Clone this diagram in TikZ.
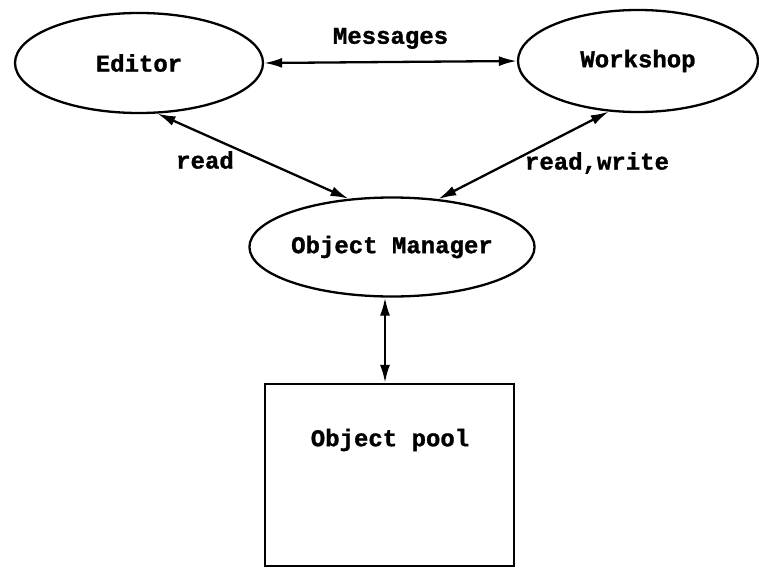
\documentclass[tikz,border=0pt]{standalone}
\usepackage{fontspec}
\setmonofont[BoldFeatures={FakeBold=1.2}]{Liberation Mono}
\usetikzlibrary{shapes.geometric,arrows.meta}
\tikzset{
  lbl/.style={font=\ttfamily\bfseries\fontsize{24}{26}\selectfont, inner sep=0pt},
  blob/.style={draw, line width=2.3pt, ellipse, inner sep=0pt, lbl},
  link/.style={line width=2.3pt, {Latex[length=18pt,width=10pt]}-{Latex[length=18pt,width=10pt]}}
}
\begin{document}
\begin{tikzpicture}[x=1pt,y=-1pt]
  \useasboundingbox (0,0) rectangle (759,567);
  % components
  \node[blob, minimum width=248pt, minimum height=100pt] (editor) at (139,63) {Editor};
  \node[blob, minimum width=240pt, minimum height=102pt] (workshop) at (638,61) {Workshop};
  \node[blob, minimum width=250pt, minimum height=99pt] (om) at (392,247) {Object Manager};
  \node[draw, line width=2.3pt, minimum width=249pt, minimum height=182pt, inner sep=0pt] (pool) at (389.5,475) {};
  \node[lbl] (poollabel) at (390,440) {Object pool};
  % connectors
  \draw[link] (editor.east) -- (workshop.west) node[lbl, midway, above=12pt] {Messages};
  \draw[link] (editor.-70) -- (om.132);
  \draw[link] (workshop.-120) -- (om.46);
  \draw[link] ([xshift=-7pt]om.south) -- ([xshift=-4.5pt]pool.north);
  % connector labels
  \node[lbl] (readlbl) at (205,160) {read};
  \node[lbl] (rwlbl) at (597,163) {read,write};
\end{tikzpicture}
\end{document}
